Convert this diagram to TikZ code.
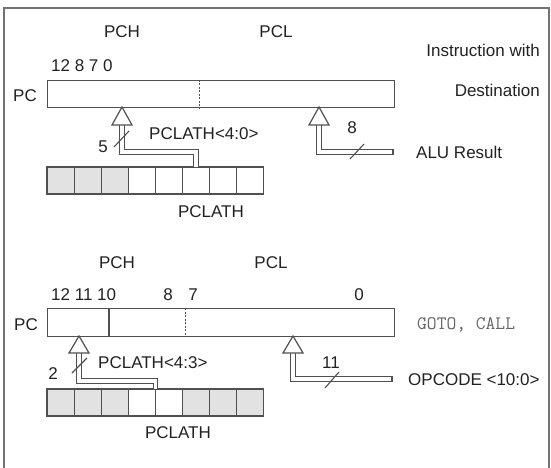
\documentclass[tikz,border=0pt]{standalone}
\usepackage{fontspec}
\setmainfont{Liberation Sans}
\usetikzlibrary{calc}
\definecolor{ln}{HTML}{505050}
\definecolor{tx}{HTML}{222222}
\definecolor{cellgray}{HTML}{E2E2E2}
\tikzset{
 lbl/.style={font=\fontsize{17}{20}\selectfont, text=tx, inner sep=0pt},
 monolbl/.style={font=\ttfamily\fontsize{19}{22}\selectfont, text=black!60, inner sep=0pt},
 regbox/.style={draw=ln, line width=1.3pt, minimum width=347pt, inner sep=0pt, anchor=north west},
 cell/.style={draw=ln, line width=1.2pt, minimum width=27.1pt, minimum height=27pt, inner sep=0pt, outer sep=0pt, anchor=north west, fill=white},
 gcell/.style={cell, fill=cellgray},
 bus/.style={draw=ln, line width=1.1pt, double=white, double distance=3.6pt},
 busend/.style={draw=ln, line width=1.1pt},
 tri/.style={draw=ln, line width=1.2pt, fill=white, line join=miter},
 slash/.style={draw=ln, line width=1.1pt},
 divdash/.style={draw=ln, line width=0.9pt, dash pattern=on 2pt off 1.5pt},
 divsolid/.style={draw=ln, line width=1.2pt},
 frame/.style={draw=black!55, line width=1.5pt}
}
\begin{document}
\begin{tikzpicture}[x=1pt,y=-1pt]
\useasboundingbox (0,0) rectangle (551,468);
\fill[white] (0,0) rectangle (551,468);
\draw[frame] (4,468) -- (4,8) -- (549,8) -- (549,468);

% ---------------- top section ----------------
\node[lbl] (pch1) at (122,32) {PCH};
\node[lbl] (pcl1) at (276,32) {PCL};
\node[lbl, anchor=west] (bits1) at (51,66) {12 8 7 0};
\node[lbl] (pclab1) at (25,96) {PC};
\node[lbl, anchor=east] (instr) at (540,50) {Instruction with};
\node[lbl, anchor=east] (dest) at (540,90) {Destination};

\node[regbox, minimum height=27pt] (pca) at (47,80) {};
\draw[divdash] ($(pca.north west)+(152,0)$) -- ($(pca.south west)+(152,0)$);

\foreach \i/\s in {0/gcell,1/gcell,2/gcell,3/cell,4/cell,5/cell,6/cell,7/cell}
  \node[\s] (ra\i) at ({47+27.1*\i},167) {};
\node[lbl] (pclath1) at (211,212) {PCLATH};

% left bus
\coordinate (tipa) at (122,107);
\coordinate (basea) at (122,125);
\draw[bus] (ra5.north) -- ++(0,-15) -| (basea);
\draw[tri] (tipa) -- ++(-10,18) -- ++(20,0) -- cycle;
\draw[slash] (114,147) -- (129,131);
\node[lbl] (n5) at (103,147) {5};
\node[lbl, anchor=west] (pl40) at (149,134) {PCLATH<4:0>};

% right bus
\coordinate (tipb) at (319,107);
\coordinate (baseb) at (319,125);
\coordinate (alu) at (393,152);
\draw[bus] (alu) -| (baseb);
\draw[busend] ($(alu)+(0,-3.4)$) -- ($(alu)+(0,3.4)$);
\draw[tri] (tipb) -- ++(-10,18) -- ++(20,0) -- cycle;
\draw[slash] (350,159) -- (364,144);
\node[lbl] (n8) at (352,128) {8};
\node[lbl, anchor=west] (alures) at (416,152) {ALU Result};

% ---------------- bottom section ----------------
\node[lbl] (pch2) at (117,263) {PCH};
\node[lbl] (pcl2) at (271,263) {PCL};
\node[lbl, anchor=west] (bits2) at (51,295) {12 11 10};
\node[lbl] (b8) at (168,295) {8};
\node[lbl] (b7) at (193,295) {7};
\node[lbl] (b0) at (359,295) {0};
\node[lbl] (pclab2) at (26,325) {PC};
\node[monolbl, anchor=west] (gotocall) at (417,325) {GOTO, CALL};

\node[regbox, minimum height=28pt] (pcb) at (47,308) {};
\draw[divsolid] ($(pcb.north west)+(62,0)$) -- ($(pcb.south west)+(62,0)$);
\draw[divdash] ($(pcb.north west)+(138,0)$) -- ($(pcb.south west)+(138,0)$);

\foreach \i/\s in {0/gcell,1/gcell,2/gcell,3/cell,4/cell,5/gcell,6/gcell,7/gcell}
  \node[\s] (rb\i) at ({47+27.1*\i},389) {};
\node[lbl] (pclath2) at (178,433) {PCLATH};

% left bus
\coordinate (tipc) at (79,336);
\coordinate (basec) at (79,353);
\draw[bus] (rb3.north east) -- ++(0,-8) -| (basec);
\draw[tri] (tipc) -- ++(-10,17) -- ++(20,0) -- cycle;
\draw[slash] (72,373) -- (87,358);
\node[lbl] (n2) at (53,374) {2};
\node[lbl, anchor=west] (pl43) at (98,363) {PCLATH<4:3>};

% right bus
\coordinate (tipd) at (293,336);
\coordinate (based) at (293,353);
\coordinate (opc) at (392,379);
\draw[bus] (opc) -| (based);
\draw[busend] ($(opc)+(0,-3.4)$) -- ($(opc)+(0,3.4)$);
\draw[tri] (tipd) -- ++(-10,17) -- ++(20,0) -- cycle;
\draw[slash] (325,388) -- (339,372);
\node[lbl] (n11) at (331,363) {11};
\node[lbl, anchor=west] (opcode) at (408,380) {OPCODE <10:0>};
\end{tikzpicture}
\end{document}
